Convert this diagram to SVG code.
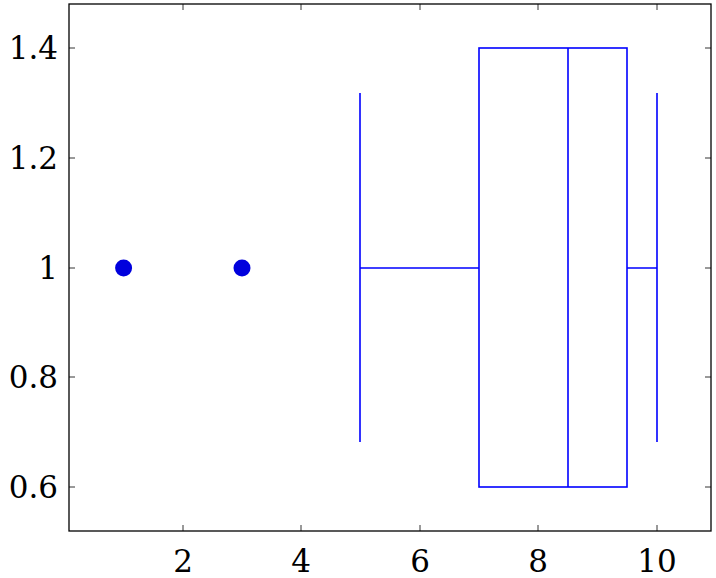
<svg xmlns="http://www.w3.org/2000/svg" width="716" height="578" viewBox="0 0 716 578">
<style>
.ax{fill:none;stroke:#000;stroke-width:1.3}
.tk{stroke:#000;stroke-width:0.8}
.lb{font-family:"DejaVu Serif","Liberation Serif",serif;font-size:31px;fill:#000}
.bx{fill:none;stroke:#0000ff;stroke-width:1.6}
.pt{fill:#0000dd}
</style>
<rect width="716" height="578" fill="#fff"/>
<g id="ticks">
<path class="tk" d="M183,531v-6M301,531v-6M420,531v-6M538,531v-6M657,531v-6M183,4v6M301,4v6M420,4v6M538,4v6M657,4v6M69,48h6M69,158h6M69,268h6M69,377h6M69,487h6M711,48h-6M711,158h-6M711,268h-6M711,377h-6M711,487h-6"/>
</g>
<g id="box">
<rect class="bx" x="479" y="48" width="148" height="439"/>
<path class="bx" d="M568,48V487M360,268H479M627,268H657M360,93V442M657,93V442"/>
</g>
<g id="outliers">
<circle class="pt" cx="123.6" cy="268" r="8.5"/>
<circle class="pt" cx="242" cy="268" r="8.5"/>
</g>
<rect id="frame" class="ax" x="69" y="4" width="642" height="527"/>
<g id="xlabels" class="lb" text-anchor="middle">
<text x="183" y="572">2</text><text x="301" y="572">4</text><text x="420" y="572">6</text><text x="538" y="572">8</text><text x="657" y="572">10</text>
</g>
<g id="ylabels" class="lb" text-anchor="end">
<text x="58" y="59">1.4</text><text x="58" y="169">1.2</text><text x="58" y="279">1</text><text x="58" y="388">0.8</text><text x="58" y="498">0.6</text>
</g>
</svg>
